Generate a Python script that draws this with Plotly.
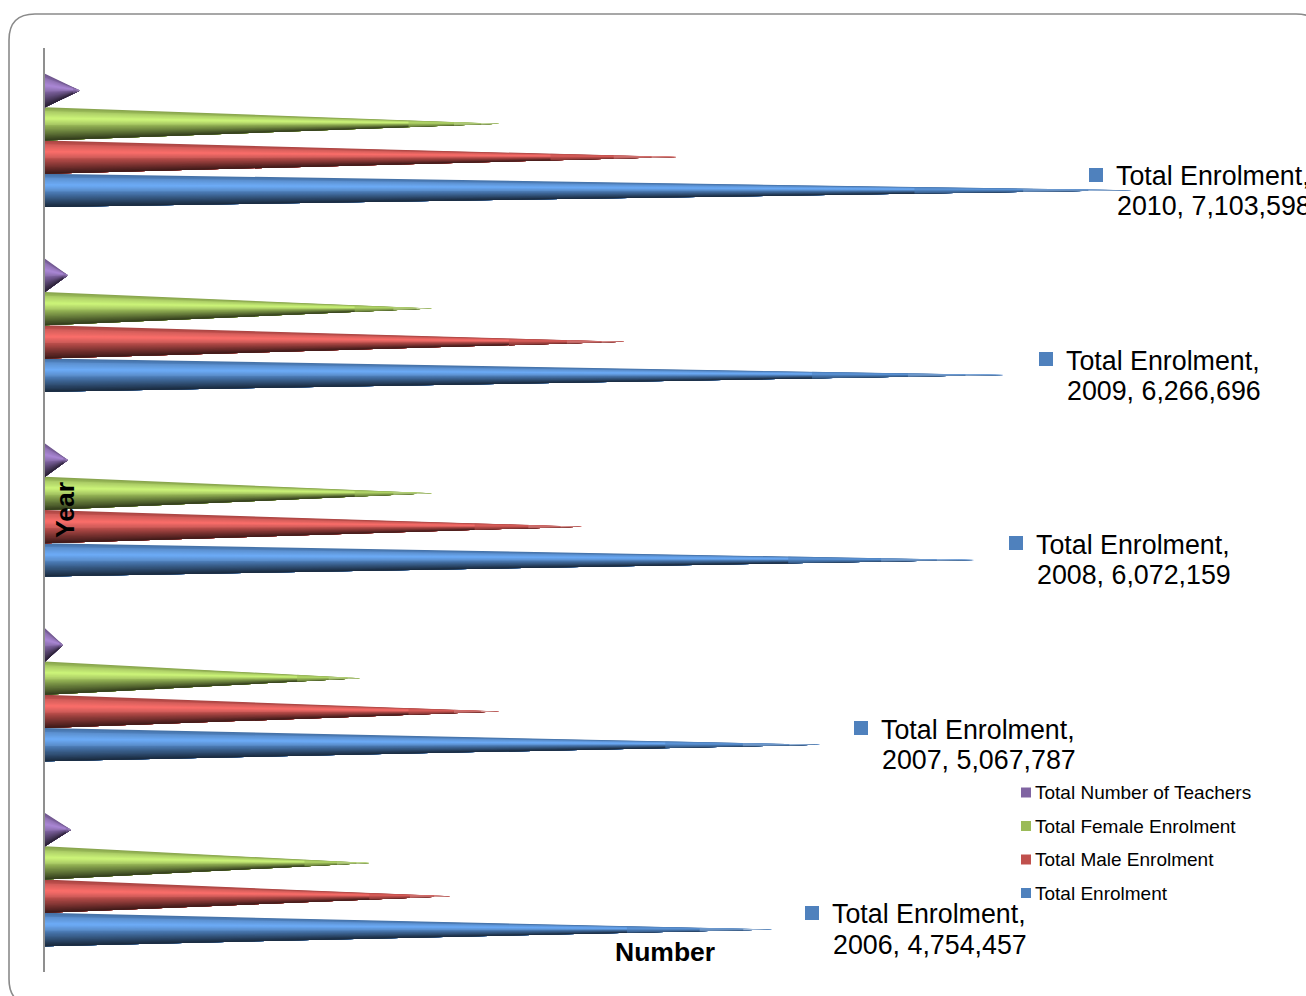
import plotly.graph_objects as go

# ---- data ----
years = ["2006", "2007", "2008", "2009", "2010"]
total_enrolment = [4754457, 5067787, 6072159, 6266696, 7103598]
male_enrolment = [2650000, 2970000, 3510000, 3790000, 4130000]
female_enrolment = [2120000, 2060000, 2530000, 2530000, 2970000]
total_teachers = [170000, 118000, 150000, 150000, 229000]
series_names = ["Total Enrolment", "Total Male Enrolment", "Total Female Enrolment", "Total Number of Teachers"]

# ---- style ----
W, H = 1306, 996
L, T, B = 45, 48, 24
X_MAX = 8242000
FONT = "Liberation Sans, Arial, sans-serif"
BASE = ["#4F81BD", "#C0504D", "#9BBB59", "#8064A2"]
BAR_H = 0.18
STOPS = [(0.0, 0.86), (0.14, 1.05), (0.34, 1.26), (0.52, 1.02), (0.72, 0.72), (0.90, 0.46), (1.0, 0.32)]
STRIPS = 26
TIP_FADES = [(0.80, 0.55, 0.0), (0.90, 0.65, 0.25), (0.96, 0.75, 0.55)]


def shade(base, f):
    rgb = [int(base[i:i + 2], 16) for i in (1, 3, 5)]
    if f <= 1:
        out = [c * f for c in rgb]
    else:
        out = [min(255, c * f + 10) for c in rgb]
    return "rgb(%d,%d,%d)" % tuple(out)


def tint(base, mix, alpha):
    rgb = [int(base[i:i + 2], 16) for i in (1, 3, 5)]
    out = [c + (255 - c) * mix for c in rgb]
    return "rgba(%d,%d,%d,%.2f)" % (out[0], out[1], out[2], alpha)


def factor(t):
    for (a, fa), (b, fb) in zip(STOPS, STOPS[1:]):
        if t <= b:
            return fa + (fb - fa) * (t - a) / (b - a)
    return STOPS[-1][1]


def px(x):
    return (x - L) / (W - L)


def py(y):
    return 1 - (y - T) / (H - T - B)


fig = go.Figure()
all_series = [total_enrolment, male_enrolment, female_enrolment, total_teachers]
for s, (name, values, base) in enumerate(zip(series_names, all_series, BASE)):
    offset = (s - 1.5) * BAR_H
    for k in range(STRIPS):
        t = k / STRIPS
        xs, ys = [], []
        for c, v in enumerate(values):
            centre = c + offset
            top = centre + BAR_H / 2 - t * BAR_H
            bottom = centre - BAR_H / 2
            xs += [0, v, 0, 0, None]
            ys += [top, centre, bottom, top, None]
        fig.add_trace(go.Scatter(
            x=xs, y=ys, mode="lines", fill="toself",
            fillcolor=shade(base, factor(t + 0.5 / STRIPS)),
            line=dict(width=0), name=name, showlegend=False, hoverinfo="skip",
        ))
    # the far tip of each cone fades out
    for frac, alpha, mix in TIP_FADES:
        xs, ys = [], []
        half = (1 - frac) * BAR_H / 2
        for c, v in enumerate(values):
            centre = c + offset
            xs += [frac * v, v, frac * v, frac * v, None]
            ys += [centre + half, centre, centre - half, centre + half, None]
        fig.add_trace(go.Scatter(
            x=xs, y=ys, mode="lines", fill="toself",
            fillcolor=tint(base, mix, alpha),
            line=dict(width=0), name=name, showlegend=False, hoverinfo="skip",
        ))

shapes = []
annotations = []

# rounded slide frame
x0, y0, x1, y1, r = px(9), py(14), px(1322), py(1005), 26
rx, ry = r / (W - L), r / (H - T - B)
shapes.append(dict(
    type="path", xref="paper", yref="paper", layer="below",
    path=(f"M {x0 + rx} {y0} L {x1 - rx} {y0} Q {x1} {y0} {x1} {y0 - ry} "
          f"L {x1} {y1 + ry} Q {x1} {y1} {x1 - rx} {y1} L {x0 + rx} {y1} "
          f"Q {x0} {y1} {x0} {y1 + ry} L {x0} {y0 - ry} Q {x0} {y0} {x0 + rx} {y0} Z"),
    line=dict(color="#8a8a8a", width=1.6),
))


def square(cx, cy, size, color):
    shapes.append(dict(
        type="rect", xref="paper", yref="paper",
        x0=px(cx - size / 2), x1=px(cx + size / 2),
        y0=py(cy - size / 2), y1=py(cy + size / 2),
        fillcolor=color, line=dict(width=0),
    ))


def text(x, y, s, size, bold=False, angle=0, anchor="left"):
    annotations.append(dict(
        xref="paper", yref="paper", x=px(x), y=py(y), text=f"<b>{s}</b>" if bold else s,
        showarrow=False, xanchor=anchor, yanchor="middle", textangle=angle,
        borderpad=0, borderwidth=0,
        font=dict(family=FONT, size=size, color="#000000"),
    ))


# data labels
label_pos = [(812, 913, 832, 914, 945), (861, 728, 881, 730, 760), (1016, 543, 1036, 545, 575),
             (1046, 359, 1066, 361, 391), (1096, 175, 1116, 176, 206)]
for year, v, (sx, sy, tx, ty1, ty2) in zip(years, total_enrolment, label_pos):
    square(sx, sy, 14, BASE[0])
    text(tx, ty1, series_names[0] + ",", 26.8)
    text(tx + 1, ty2, f"{year}, {v:,}", 26.8)

# legend
legend_y = [893, 859.5, 826, 792.5]
for name, color, y in zip(series_names, BASE, legend_y):
    square(1026, y, 10, color)
    text(1035, y, name, 19)

# axis titles
text(664.5, 952, "Number", 26.5, bold=True, anchor="center")
text(65, 510, "Year", 26.5, bold=True, angle=-90, anchor="center")

fig.update_layout(
    width=W, height=H, autosize=False,
    margin=dict(l=L, r=0, t=T, b=B, pad=0),
    paper_bgcolor="white", plot_bgcolor="white",
    showlegend=False, shapes=shapes, annotations=annotations,
    xaxis=dict(range=[0, X_MAX], showgrid=False, zeroline=False, showticklabels=False,
               ticks="", showline=False, fixedrange=True),
    yaxis=dict(range=[-0.5, 4.5], showgrid=False, zeroline=False, showticklabels=False,
               ticks="", showline=True, linecolor="#8f8f8f", linewidth=2, fixedrange=True),
)

fig.write_html(
    "out.html",
    config=dict(displayModeBar=False),
    post_script="document.body.style.margin='0';document.body.style.overflow='hidden';",
)
